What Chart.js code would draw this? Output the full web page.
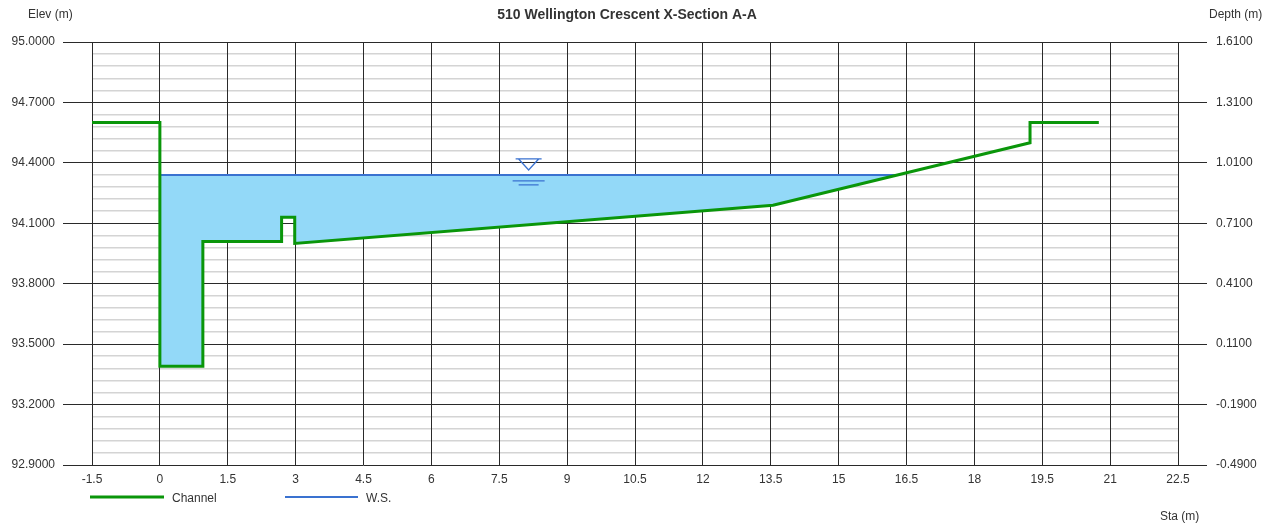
<!DOCTYPE html>
<html>
<head>
<meta charset="utf-8">
<script src="https://cdn.jsdelivr.net/npm/chart.js@4"></script>
<style>
    html, body { margin: 0; padding: 0; background: #ffffff; }
    #wrap { width: 1276px; height: 524px; }
</style>
</head>
<body>
<div id="wrap"><canvas id="myChart" width="1276" height="524"></canvas></div>
<script>
// channel ground profile (station / elevation)
const channelSta = [-1.5, 0, 0, 0.95, 0.95, 2.69, 2.69, 2.98, 2.98, 13.55, 19.23, 19.23, 20.75];
const channelElev = [94.6, 94.6, 93.39, 93.39, 94.01, 94.01, 94.13, 94.13, 94.0, 94.19, 94.5, 94.6, 94.6];
// water surface elevation
const wsElev = 94.34;
// axis ticks
const staTicks = [-1.5, 0, 1.5, 3, 4.5, 6, 7.5, 9, 10.5, 12, 13.5, 15, 16.5, 18, 19.5, 21, 22.5];
const elevTicks = [92.9, 93.2, 93.5, 93.8, 94.1, 94.4, 94.7, 95.0];
const depthTicks = [-0.49, -0.19, 0.11, 0.41, 0.71, 1.01, 1.31, 1.61];
const minorPerMajor = 5;

const FONT = "'Liberation Sans', Arial, sans-serif";
const TEXT = "#333333";
const GREEN = "#0a960a";
const BLUE = "#3a72d0";
const WATER = "#93d9f8";

// clip ground profile under the water surface -> polygon for the water fill
function waterPolygon() {
    var pts = [];
    for (var i = 0; i < channelSta.length; i++) {
        var x0 = channelSta[i], y0 = channelElev[i];
        pts.push({ x: x0, y: Math.min(y0, wsElev) });
        if (i < channelSta.length - 1) {
            var x1 = channelSta[i + 1], y1 = channelElev[i + 1];
            if ((y0 - wsElev) * (y1 - wsElev) < 0) {
                var t = (wsElev - y0) / (y1 - y0);
                pts.push({ x: x0 + t * (x1 - x0), y: wsElev });
            }
        }
    }
    return pts;
}

// where the water surface meets the banks
function wsExtent() {
    var wet = [];
    for (var i = 0; i < channelSta.length - 1; i++) {
        var x0 = channelSta[i], y0 = channelElev[i];
        var x1 = channelSta[i + 1], y1 = channelElev[i + 1];
        if ((y0 - wsElev) * (y1 - wsElev) <= 0 && y0 !== y1) {
            var t = (wsElev - y0) / (y1 - y0);
            wet.push(x0 + t * (x1 - x0));
        }
    }
    return [Math.min.apply(null, wet), Math.max.apply(null, wet)];
}

const ext = wsExtent();
const channelData = channelSta.map((s, i) => ({ x: s, y: channelElev[i] }));
const wsData = [{ x: ext[0], y: wsElev }, { x: ext[1], y: wsElev }];

// elevation ticks with minor lines between the majors
function elevTickList() {
    var list = [];
    for (var i = 0; i < elevTicks.length; i++) {
        list.push({ value: elevTicks[i], major: true });
        if (i < elevTicks.length - 1) {
            var step = (elevTicks[i + 1] - elevTicks[i]) / minorPerMajor;
            for (var k = 1; k < minorPerMajor; k++) {
                list.push({ value: elevTicks[i] + k * step, major: false });
            }
        }
    }
    return list;
}

// titles, legend and water surface marker
const decorations = {
    id: "decorations",
    afterDatasetsDraw(chart) {
        const ctx = chart.ctx;
        const xs = chart.scales.x, ys = chart.scales.y;
        var px = xs.getPixelForValue((ext[0] + ext[1]) / 2);
        var py = ys.getPixelForValue(wsElev);
        ctx.save();
        ctx.strokeStyle = BLUE;
        ctx.lineWidth = 1.3;
        ctx.beginPath();
        ctx.moveTo(px - 13, py - 16);
        ctx.lineTo(px + 13, py - 16);
        ctx.moveTo(px - 10, py - 16);
        ctx.lineTo(px, py - 5);
        ctx.lineTo(px + 10, py - 16);
        ctx.moveTo(px - 16, py + 6);
        ctx.lineTo(px + 16, py + 6);
        ctx.moveTo(px - 10, py + 10);
        ctx.lineTo(px + 10, py + 10);
        ctx.stroke();
        ctx.restore();
    },
    afterDraw(chart) {
        const ctx = chart.ctx;
        ctx.save();
        ctx.fillStyle = TEXT;
        ctx.textBaseline = "middle";
        ctx.font = "bold 14px " + FONT;
        ctx.textAlign = "center";
        ctx.fillText("510 Wellington Crescent X-Section A-A", 627, 15);
        ctx.font = "12px " + FONT;
        ctx.textAlign = "left";
        ctx.fillText("Elev (m)", 28, 15);
        ctx.fillText("Depth (m)", 1209, 15);
        ctx.fillText("Sta (m)", 1160, 517);

        // legend
        ctx.lineWidth = 3;
        ctx.strokeStyle = GREEN;
        ctx.beginPath();
        ctx.moveTo(90, 497);
        ctx.lineTo(164, 497);
        ctx.stroke();
        ctx.fillText("Channel", 172, 499);
        ctx.lineWidth = 2;
        ctx.strokeStyle = BLUE;
        ctx.beginPath();
        ctx.moveTo(285, 497);
        ctx.lineTo(358, 497);
        ctx.stroke();
        ctx.fillText("W.S.", 366, 499);
        ctx.restore();
    },
};

Chart.defaults.font.family = FONT;
Chart.defaults.font.size = 12;
Chart.defaults.color = TEXT;

new Chart(document.getElementById("myChart"), {
    type: "line",
    data: {
        datasets: [
            {
                label: "Channel",
                data: channelData,
                borderColor: GREEN,
                borderWidth: 3,
                pointRadius: 0,
                tension: 0,
                fill: false,
            },
            {
                label: "W.S.",
                data: wsData,
                borderColor: BLUE,
                borderWidth: 2,
                pointRadius: 0,
                fill: false,
            },
            {
                label: "water",
                data: waterPolygon(),
                borderWidth: 0,
                borderColor: "rgba(0,0,0,0)",
                backgroundColor: WATER,
                pointRadius: 0,
                tension: 0,
                fill: { value: wsElev },
            },
        ],
    },
    options: {
        responsive: false,
        animation: false,
        parsing: false,
        layout: { padding: { top: 42, left: 0, right: 0, bottom: 0 } },
        plugins: {
            legend: { display: false },
            title: { display: false },
            tooltip: { enabled: false },
        },
        scales: {
            x: {
                type: "linear",
                min: staTicks[0],
                max: staTicks[staTicks.length - 1],
                afterBuildTicks: (scale) => {
                    scale.ticks = staTicks.map((v) => ({ value: v }));
                },
                afterFit: (scale) => {
                    scale.height = 59;
                },
                ticks: {
                    autoSkip: false,
                    maxRotation: 0,
                    padding: 7,
                    callback: (v) => String(v),
                },
                grid: {
                    color: "#2a2a2a",
                    lineWidth: 1,
                    drawTicks: false,
                    z: -1,
                },
                border: { display: false },
            },
            y: {
                type: "linear",
                position: "left",
                min: elevTicks[0],
                max: elevTicks[elevTicks.length - 1],
                afterBuildTicks: (scale) => {
                    scale.ticks = elevTickList();
                },
                afterFit: (scale) => {
                    scale.width = 92;
                },
                ticks: {
                    autoSkip: false,
                    padding: 8,
                    callback: function (v, i, ticks) {
                        return ticks[i].major ? v.toFixed(4) : "";
                    },
                },
                grid: {
                    z: -2, // minor lines go under the vertical grid
                    tickLength: 29,
                    color: (c) => (c.tick && c.tick.major ? "#2a2a2a" : "#d4d4d4"),
                    tickColor: (c) => (c.tick && c.tick.major ? "#2a2a2a" : "rgba(0,0,0,0)"),
                    lineWidth: (c) => (c.tick && c.tick.major ? 1 : 1.5),
                },
                border: { display: false },
            },
            y2: {
                type: "linear",
                position: "right",
                min: depthTicks[0],
                max: depthTicks[depthTicks.length - 1],
                afterBuildTicks: (scale) => {
                    scale.ticks = depthTicks.map((v) => ({ value: v }));
                },
                afterFit: (scale) => {
                    scale.width = 98;
                },
                ticks: {
                    autoSkip: false,
                    padding: 9,
                    callback: (v) => v.toFixed(4),
                },
                grid: {
                    drawOnChartArea: false,
                    tickLength: 29,
                    tickColor: "#2a2a2a",
                },
                border: { display: false },
            },
        },
    },
    plugins: [decorations],
});
</script>
</body>
</html>
